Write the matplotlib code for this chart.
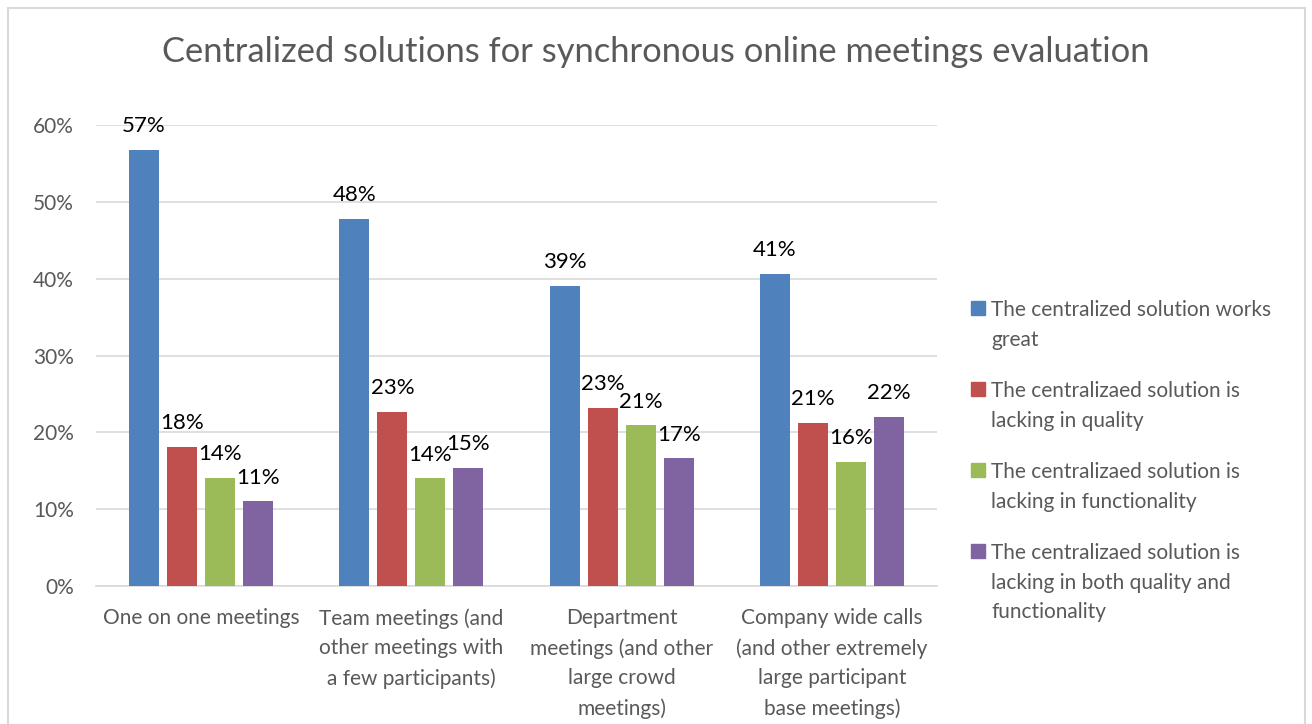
"""
Grouped bar chart: evaluation of centralized solutions for online meetings
"""
import matplotlib
matplotlib.use("Agg")
import numpy as np
import matplotlib.pyplot as plt
from matplotlib.patches import Rectangle

# Data
categories = [
    "One on one meetings",
    "Team meetings (and\nother meetings with\na few participants)",
    "Department\nmeetings (and other\nlarge crowd\nmeetings)",
    "Company wide calls\n(and other extremely\nlarge participant\nbase meetings)",
]
series_names = [
    "The centralized solution works\ngreat",
    "The centralizaed solution is\nlacking in quality",
    "The centralizaed solution is\nlacking in functionality",
    "The centralizaed solution is\nlacking in both quality and\nfunctionality",
]
works_great = [0.567, 0.478, 0.390, 0.406]
lacking_quality = [0.181, 0.226, 0.232, 0.212]
lacking_functionality = [0.141, 0.140, 0.209, 0.161]
lacking_both = [0.110, 0.154, 0.166, 0.220]
y_ticks = [0, 0.1, 0.2, 0.3, 0.4, 0.5, 0.6]
title = "Centralized solutions for synchronous online meetings evaluation"

colors = ["#4f81bd", "#c0504d", "#9bbb59", "#8064a2"]
gray = "#595959"
grid_gray = "#d9d9d9"

plt.rcParams["font.family"] = ["Lato", "DejaVu Sans"]

W, H = 1312, 724
fig = plt.figure(figsize=(W / 100, H / 100), dpi=100)
ax = fig.add_axes([96 / W, 1 - 586 / H, (937 - 96) / W, (586 - 125) / H])

values = [works_great, lacking_quality, lacking_functionality, lacking_both]
x = np.arange(len(categories))
width = 0.143
step = 0.181
for i, (vals, color) in enumerate(zip(values, colors)):
    bars = ax.bar(x + (i - 1.5) * step, vals, width, color=color, zorder=3)
    ax.bar_label(bars, labels=[f"{v * 100:.0f}%" for v in vals],
                 padding=10, fontsize=16, color="black")

ax.set_xlim(-0.5, len(categories) - 0.5)
ax.set_ylim(0, 0.6)
ax.set_yticks(y_ticks)
ax.set_yticklabels([f"{t * 100:.0f}%" for t in y_ticks])
ax.set_xticks(x)
ax.set_xticklabels(categories, linespacing=1.6)
ax.tick_params(axis="both", length=0, colors=gray, labelsize=15)
ax.tick_params(axis="y", pad=16)
ax.tick_params(axis="x", pad=16)
ax.yaxis.grid(True, color=grid_gray, linewidth=1.2, zorder=0)
for spine in ["top", "right", "left"]:
    ax.spines[spine].set_visible(False)
ax.spines["bottom"].set_color(grid_gray)
ax.spines["bottom"].set_linewidth(1.2)

fig.text(0.5, 1 - 52 / H, title, ha="center", va="center",
         fontsize=24.8, color=gray)

# Legend drawn by hand so squares line up with the first text line
legend_top = [308, 389, 470, 551]
for name, color, ty in zip(series_names, colors, legend_top):
    fig.add_artist(Rectangle((971 / W, 1 - (ty + 7) / H), 14 / W, 14 / H,
                             transform=fig.transFigure, color=color))
    fig.text(991 / W, 1 - (ty - 8) / H, name, ha="left", va="top",
             fontsize=15, color=gray, linespacing=1.6)

# Chart border
fig.add_artist(Rectangle((8 / W, -0.05), (1305 - 8) / W, 1 - 8 / H + 0.05,
                         transform=fig.transFigure, fill=False,
                         edgecolor=grid_gray, linewidth=1.5))

fig.savefig("out.png", dpi=100)
